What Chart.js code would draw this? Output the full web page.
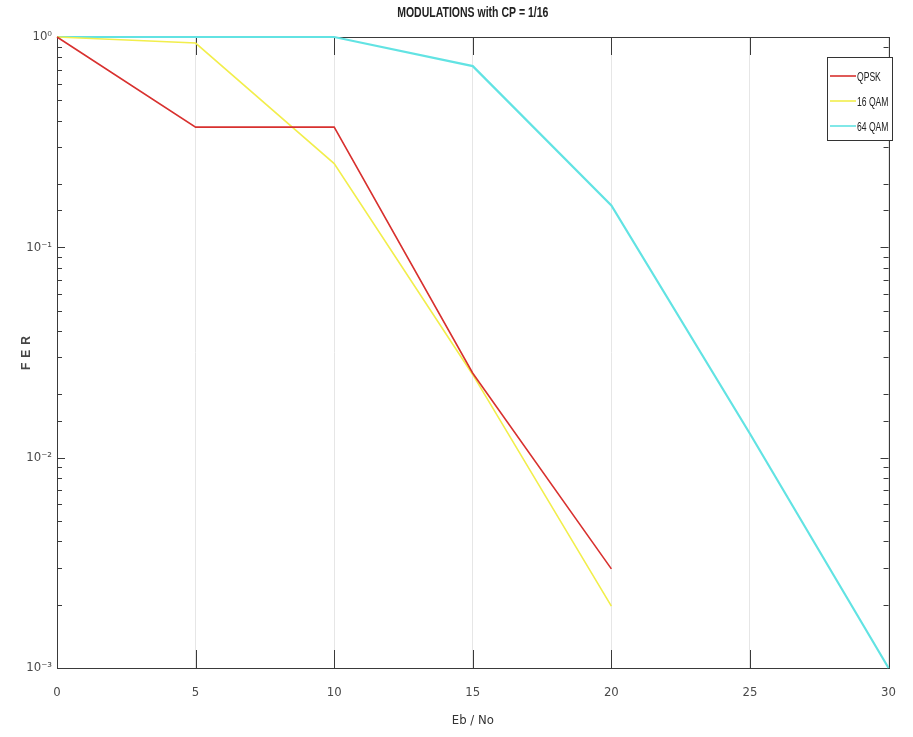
<!DOCTYPE html>
<html lang="en">
<head>
    <meta charset="UTF-8">
    <title>MODULATIONS with CP = 1/16</title>
    <style>
        * { margin: 0; padding: 0; }
        body { background: #fff; }
        .container { position: relative; width: 913px; height: 737px; }
    </style>
</head>
<body>
    <div class="container">
        <canvas id="chart" width="913" height="737"></canvas>
    </div>
    <script src="https://cdn.jsdelivr.net/npm/chart.js@4.4.1/dist/chart.umd.min.js"></script>
    <script>
        // Eb/No (dB) no eixo x, FER no eixo y (log)
        var ebno = [0, 5, 10, 15, 20, 25, 30];
        var qpsk = [1, 0.373, 0.373, 0.0252, 0.00296];
        var qam16 = [1, 0.936, 0.25, 0.0248, 0.00197];
        var qam64 = [1, 1, 1, 0.727, 0.158, 0.013, 0.001];

        var nomes = ['QPSK', '16 QAM', '64 QAM'];
        var cores = ['#d8312f', '#f2ee4c', '#62e3e3'];
        var yLabels = { 1: '10\u2070', 0.1: '10\u207B\u00B9', 0.01: '10\u207B\u00B2', 0.001: '10\u207B\u00B3' };
        var titulo = 'MODULATIONS with CP = 1/16';

        var fonte = "'DejaVu Sans Condensed', 'Liberation Sans', Arial, sans-serif";
        var fonteTxt = "'Liberation Sans', Arial, sans-serif";

        function pontos(ys) {
            return ys.map(function (v, i) { return { x: ebno[i], y: v }; });
        }

        // texto estreito (tipo Arial Narrow)
        function textoEstreito(ctx, txt, x, y, f, align, sx) {
            ctx.save();
            ctx.font = f;
            ctx.translate(x, y);
            ctx.scale(sx || 0.8, 1);
            ctx.textAlign = align || 'left';
            ctx.fillText(txt, 0, 0);
            ctx.restore();
        }

        var moldura = {
            id: 'moldura',
            beforeDatasetsDraw: function (chart) {
                var ctx = chart.ctx;
                var a = chart.chartArea;
                var xs = chart.scales.x;
                var ys = chart.scales.y;
                ctx.save();
                ctx.strokeStyle = '#3a3a3a';
                ctx.lineWidth = 1;
                ctx.beginPath();
                xs.ticks.forEach(function (t) {
                    var px = Math.round(xs.getPixelForValue(t.value)) + 0.5;
                    ctx.moveTo(px, a.bottom); ctx.lineTo(px, a.bottom - 18);
                    ctx.moveTo(px, a.top); ctx.lineTo(px, a.top + 18);
                });
                ys.ticks.forEach(function (t) {
                    var py = Math.round(ys.getPixelForValue(t.value)) + 0.5;
                    var len = yLabels[t.value] ? 8 : 5;
                    ctx.moveTo(a.left, py); ctx.lineTo(a.left + len, py);
                    ctx.moveTo(a.right, py); ctx.lineTo(a.right - len, py);
                });
                ctx.stroke();
                ctx.strokeRect(Math.round(a.left) + 0.5, Math.round(a.top) + 0.5,
                    Math.round(a.right - a.left), Math.round(a.bottom - a.top));
                ctx.restore();
            },
            afterDatasetsDraw: function (chart) {
                var ctx = chart.ctx;
                var a = chart.chartArea;
                ctx.save();
                // titulo
                ctx.fillStyle = '#222';
                ctx.textBaseline = 'middle';
                textoEstreito(ctx, titulo, (a.left + a.right) / 2, 13, 'bold 14px ' + fonteTxt, 'center', 0.75);

                // legenda
                var lx = 827, ly = 57, lw = 65, lh = 83;
                ctx.fillStyle = '#fff';
                ctx.fillRect(lx, ly, lw, lh);
                ctx.strokeStyle = '#333';
                ctx.lineWidth = 1;
                ctx.strokeRect(lx + 0.5, ly + 0.5, lw, lh);
                nomes.forEach(function (n, i) {
                    var yy = ly + 19 + i * 25;
                    ctx.strokeStyle = cores[i];
                    ctx.lineWidth = 1.6;
                    ctx.beginPath();
                    ctx.moveTo(lx + 3, yy); ctx.lineTo(lx + 29, yy);
                    ctx.stroke();
                    ctx.fillStyle = '#222';
                    textoEstreito(ctx, n, lx + 30, yy + 1, '13px ' + fonteTxt, 'left', 0.66);
                });

                // titulo eixo y
                ctx.translate(27, (a.top + a.bottom) / 2);
                ctx.rotate(-Math.PI / 2);
                ctx.font = 'bold 12px ' + fonteTxt;
                ctx.letterSpacing = '5px';
                ctx.textAlign = 'center';
                ctx.fillStyle = '#444';
                ctx.fillText('FER', 2, 0);
                ctx.restore();
            }
        };

        var ctx = document.getElementById('chart').getContext('2d');
        var myChart = new Chart(ctx, {
            type: 'line',
            data: {
                datasets: [
                    { label: nomes[0], data: pontos(qpsk), borderColor: cores[0], backgroundColor: cores[0], borderWidth: 1.6 },
                    { label: nomes[1], data: pontos(qam16), borderColor: cores[1], backgroundColor: cores[1], borderWidth: 1.6 },
                    { label: nomes[2], data: pontos(qam64), borderColor: cores[2], backgroundColor: cores[2], borderWidth: 2.2 }
                ]
            },
            plugins: [moldura],
            options: {
                responsive: false,
                animation: false,
                layout: { padding: { left: 0, right: 14, top: 37, bottom: 0 } },
                elements: { point: { radius: 0 }, line: { tension: 0 } },
                datasets: { line: { clip: 4 } },
                scales: {
                    x: {
                        type: 'linear', min: 0, max: 30,
                        border: { display: false },
                        grid: { color: '#e6e6e6', drawTicks: false },
                        ticks: { stepSize: 5, padding: 17, color: '#4a4a4a', font: { family: fonte, size: 13 } },
                        title: { display: true, text: 'Eb / No', color: '#333', font: { family: fonte, size: 13 }, padding: { top: 0, bottom: 9 } },
                        afterFit: function (s) { s.height = 69; }
                    },
                    y: {
                        type: 'logarithmic', min: 0.001, max: 1,
                        border: { display: false },
                        grid: { display: false, drawTicks: false },
                        ticks: {
                            padding: 5, color: '#4a4a4a', autoSkip: false,
                            font: { family: fonte, size: 13 },
                            callback: function (v) { return yLabels[v] || ''; }
                        },
                        afterFit: function (s) { s.width = 57; }
                    }
                },
                plugins: {
                    legend: { display: false },
                    tooltip: { enabled: false },
                    title: { display: false }
                }
            }
        });
    </script>
</body>
</html>
